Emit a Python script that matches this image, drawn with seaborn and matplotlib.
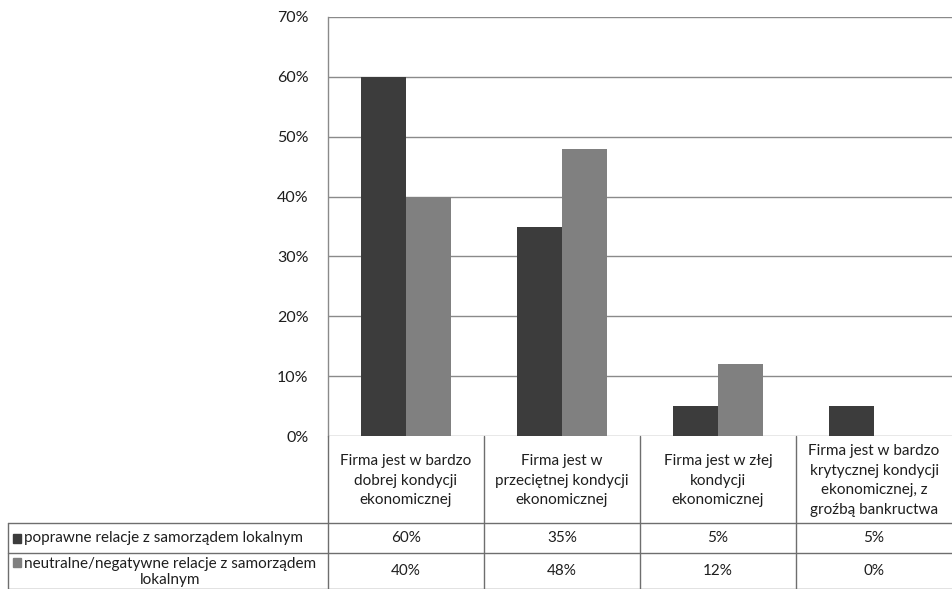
import matplotlib
matplotlib.use("Agg")
import matplotlib.pyplot as plt
import matplotlib.transforms as mtransforms
import seaborn as sns
import pandas as pd

categories = [
    "Firma jest w bardzo\ndobrej kondycji\nekonomicznej",
    "Firma jest w\nprzeciętnej kondycji\nekonomicznej",
    "Firma jest w złej\nkondycji\nekonomicznej",
    "Firma jest w bardzo\nkrytycznej kondycji\nekonomicznej, z\ngroźbą bankructwa",
]
series_names = [
    "poprawne relacje z samorządem lokalnym",
    "neutralne/negatywne relacje z samorządem\nlokalnym",
]
values_good = [60, 35, 5, 5]
values_neutral = [40, 48, 12, 0]
y_ticks = [0, 10, 20, 30, 40, 50, 60, 70]

colors = ["#3c3c3c", "#808080"]
grid_color = "#8a8a8a"
text_color = "#1e1e1e"

sns.set_theme(style="white")
plt.rcParams["font.family"] = ["Lato", "DejaVu Sans"]

df = pd.DataFrame({
    "kategoria": categories * 2,
    "seria": [series_names[0]] * 4 + [series_names[1]] * 4,
    "wartosc": values_good + values_neutral,
})

W, H = 952, 589
fig = plt.figure(figsize=(W / 100, H / 100), dpi=100)
fig.patch.set_facecolor("white")

plot_left, plot_right, plot_top, plot_bottom = 328, 952, 17, 436
ax = fig.add_axes([plot_left / W, (H - plot_bottom) / H,
                   (plot_right - plot_left) / W, (plot_bottom - plot_top) / H])

sns.barplot(data=df, x="kategoria", y="wartosc", hue="seria",
            palette=colors, width=0.58, saturation=1, legend=False,
            edgecolor="none", linewidth=0, ax=ax)

ax.set_xlim(-0.5, 3.5)
ax.set_ylim(0, 70)
ax.set_yticks(y_ticks)
ax.set_yticklabels([f"{t}%" for t in y_ticks], fontsize=11.5, color=text_color)
ax.tick_params(axis="y", length=0, pad=14)
ax.set_xticks([])
ax.set_xlabel("")
ax.set_ylabel("")
for t in y_ticks:
    ax.axhline(t, color=grid_color, lw=1.0, zorder=0)
for side in ["top", "right", "bottom"]:
    ax.spines[side].set_visible(False)
ax.spines["left"].set_color(grid_color)
ax.spines["left"].set_linewidth(1.0)
ax.set_axisbelow(True)

# Data table below the chart
tax = fig.add_axes([0, 0, 1, (H - plot_bottom) / H])
tax.set_xlim(0, W)
tax.set_ylim(H, plot_bottom)
tax.axis("off")
blend = mtransforms.blended_transform_factory(ax.transData, tax.transData)

header_bottom, row1_bottom, row2_bottom = 523, 553, 589
table_left = 8
line_kw = dict(color="#6e6e6e", lw=1.0, clip_on=False)

# horizontal rules
for yy in [header_bottom, row1_bottom]:
    tax.plot([table_left, W], [yy, yy], **line_kw)
tax.plot([table_left, W], [row2_bottom - 0.5, row2_bottom - 0.5], **line_kw)
# vertical rules at the category boundaries
for i in range(len(categories)):
    ax_x = i - 0.5
    tax.plot([ax_x, ax_x], [plot_bottom, row2_bottom], transform=blend, **line_kw)
tax.plot([table_left, table_left], [header_bottom, row2_bottom], **line_kw)

# category headers
for i, cat in enumerate(categories):
    tax.text(i, (plot_bottom + header_bottom) / 2 + 1, cat, transform=blend,
             ha="center", va="center", fontsize=11, color=text_color,
             linespacing=1.5, multialignment="center")

# series rows
row_centers = [(header_bottom + row1_bottom) / 2, (row1_bottom + row2_bottom) / 2]
row_values = [values_good, values_neutral]
for r, (name, vals, col) in enumerate(zip(series_names, row_values, colors)):
    yc = row_centers[r]
    if r == 0:
        tax.add_patch(plt.Rectangle((13, yc - 4.5), 8, 9, color=col, clip_on=False))
        tax.text(24, yc, name, ha="left", va="center", fontsize=11, color=text_color)
    else:
        tax.add_patch(plt.Rectangle((13, yc - 13), 8, 9, color=col, clip_on=False))
        tax.text(24, yc + 1, name, ha="left", va="center", fontsize=11,
                 color=text_color, linespacing=1.25, multialignment="center")
    for i, v in enumerate(vals):
        tax.text(i, yc, f"{v}%", transform=blend, ha="center", va="center",
                 fontsize=11, color=text_color)

fig.savefig("out.png", dpi=100, facecolor="white")
